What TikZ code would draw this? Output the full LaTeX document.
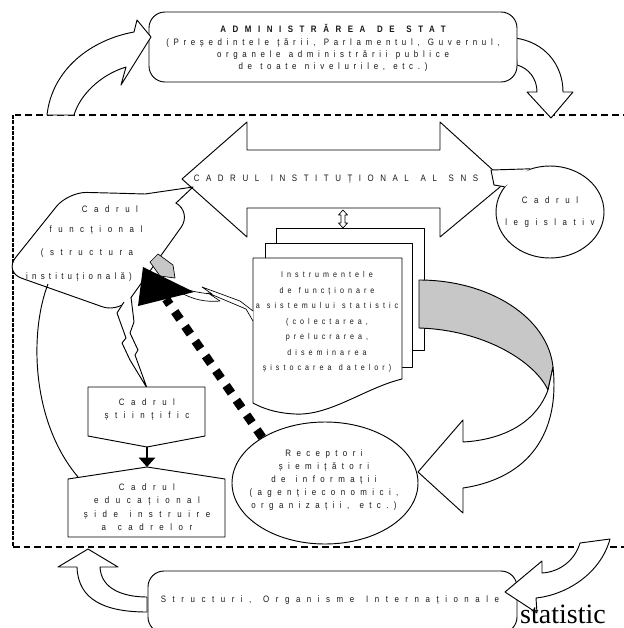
\documentclass[tikz,border=0pt]{standalone}
\usepackage{fontspec}
\setmainfont{Liberation Serif}
\newfontfamily\sansspaced[FakeStretch=0.85,LetterSpace=70,WordSpace=1.35]{Liberation Sans}
\newfontfamily\sansmedium[FakeStretch=0.85,LetterSpace=50,WordSpace=1.2]{Liberation Sans}
\newfontfamily\sanstight[FakeStretch=0.85,LetterSpace=48,WordSpace=1.2]{Liberation Sans}
\usetikzlibrary{arrows.meta,positioning,shapes.geometric}
\tikzset{%
	outline/.style  = {draw, fill=white, line width=0.7pt, line join=round},
	grayface/.style = {draw, fill=black!22, line width=0.7pt, line join=round},
	frame/.style    = {line width=1.3pt, dash pattern=on 5pt off 3pt},
	lbl/.style      = {inner sep=0pt, align=center, text=black!90, font=\sansspaced\fontsize{7}{#1}\selectfont},
	lbl/.default    = 9.75,
	smalllbl/.style = {inner sep=0pt, align=center, text=black!90, font=\sanstight\fontsize{6.3}{11.6}\selectfont},
	dashline/.style = {line width=6.5pt, dash pattern=on 7pt off 6.5pt},
}

\begin{document}
\begin{tikzpicture}[x=0.75pt,y=-0.75pt]
	\useasboundingbox (0,0) rectangle (624,628);
	\clip (0,0) rectangle (624,628);
	
	% cadrul SNS
	\draw[frame] (640,115) -- (13,115);
	\draw[frame, dash pattern=on 3pt off 1pt] (13,115) -- (13,547);
	\draw[frame] (13,547) -- (640,547);
	
	% administrarea de stat
	\draw[outline] (515,38) .. controls (545,42) and (563,65) .. (563,92) -- (573,92) -- (551,118) -- (527,92) -- (537,92) .. controls (537,78) and (528,68) .. (517,65) -- cycle;
	\draw[outline, rounded corners=12pt] (149,12) rectangle (517,82);
	\draw[outline] (47,115) .. controls (52,70) and (90,40) .. (134,32) -- (137,20) -- (151,37) -- (121,85) -- (126,67) .. controls (100,75) and (80,95) .. (74,115) -- cycle;
	\node[lbl] (adm) at (333,28) {\bfseries ADMINISTRĂREA DE STAT};
	\node[lbl, font=\sansmedium\fontsize{7}{9}\selectfont] (admtext) at (333,55) {(Președintele țării, Parlamentul, Guvernul,\\organele administrării publice\\de toate nivelurile, etc.)};
	
	% cadrul institutional
	\draw[outline] (182,179) -- (247,122) -- (247,150) -- (440,150) -- (440,122) -- (506,182) -- (440,237) -- (440,208) -- (247,208) -- (247,237) -- cycle;
	\node[lbl] (inst) at (336,179) {CADRUL INSTITUȚIONAL AL SNS};
	
	\node[outline, ellipse, minimum width=81pt, minimum height=69pt] (leg) at (550,212) {};
	\fill[white] (leg.115) -- (491,170) -- (494,185) -- (leg.151) -- cycle;
	\draw[line width=0.7pt, line join=round] (leg.115) -- (491,170) -- (494,185) -- (leg.151);
	\node[lbl] (legtext) at (leg) {Cadrul\\[6.75pt]legislativ};
	
	\draw[outline] (110,193) -- (145,194) -- (193,187) -- (176,203) [rounded corners=14pt] -- (192,212) -- (120,313) -- (4,272) -- (68,192) -- cycle;
	\node[lbl] (fc1) at (110,209) {Cadrul};
	\node[lbl] (fc2) at (96,230) {funcțional};
	\node[lbl] (fc3) at (87,253) {(structura};
	\node[lbl] (fc4) at (79,277) {\addfontfeature{LetterSpace=45}instituțională)};
	
	% instrumentele
	\draw[outline] (276,228) rectangle (424,350);
	\draw[outline] (265,243) rectangle (412,367);
	\draw[outline] (253,258) -- (402,258) -- (402,379) .. controls (365,388) and (330,416) .. (295,414) .. controls (275,413) and (262,408) .. (253,403) -- cycle;
	\node[smalllbl] (instr) at (327,322) {Instrumentele\\de funcționare\\a sistemului statistic\\(colectarea,\\prelucrarea,\\diseminarea\\șistocarea datelor)};
	\draw[outline, line width=0.5pt] (343,210) -- (347.5,215) -- (345,215) -- (345,223) -- (347.5,223) -- (343,228) -- (338.5,223) -- (341,223) -- (341,215) -- (338.5,215) -- cycle;
	
	% receptori
	\node[outline, ellipse, minimum width=139.5pt, minimum height=91.5pt] (rec) at (325,483) {};
	\node[lbl, font=\sansspaced\addfontfeature{LetterSpace=58}\fontsize{7}{9.75}\selectfont] (rectext) at (324,480) {Receptori\\șiemițători\\de informații\\(agențieconomici,\\organizații, etc.)};
	\draw[grayface] (419,280) .. controls (490,280) and (548,318) .. (553,367) -- (548,390) .. controls (535,362) and (485,330) .. (419,328) -- cycle;
	\draw[outline] (548,390) .. controls (535,425) and (500,440) .. (463,442) -- (463,420) -- (418,472) -- (463,513) -- (463,488) .. controls (530,478) and (560,432) .. (553,367) -- cycle;
	
	% legaturi spre cadrul functional
	\draw[outline, line width=0.5pt] (253,321) -- (246,309) -- (208,293) -- (220,301) .. controls (200,303) and (182,296) .. (170,284) .. controls (188,291) and (200,293) .. (212,294) -- (202,287) -- (240,301) -- (253,311);
	\draw[grayface, line width=0.5pt] (150,262) -- (158,254) -- (173,265) -- (175,278) -- (160,276) -- cycle;
	\coordinate (tip) at (143,267);
	\coordinate (tipbase) at (166,299);
	\draw[dashline] (rec.144) -- (tipbase);
	\fill (tip) -- (138,306) -- (194,292) -- cycle;
	\draw[outline] (124,302) -- (117,313) -- (126,338) -- (122,343) -- (130,360) -- (147,388) -- (135,355) -- (138,350) -- (130,333) -- (134,322) -- (131,297);
	
	% cadrul stiintific si educational
	\draw[outline] (88,387) -- (205,387) -- (205,436) -- (147,447) -- (88,436) -- cycle;
	\node[lbl] (sci) at (147,410) {Cadrul\\științific};
	\draw[outline] (147,467) -- (225,479) -- (225,537) -- (68,537) -- (68,479) -- cycle;
	\node[lbl=10] (edu) at (147,507) {Cadrul\\educațional\\șide instruire\\a cadrelor};
	\coordinate (scitip) at (147,447);
	\coordinate (edutip) at (147,467);
	\draw[line width=2pt, -{Triangle[length=7pt,width=12pt]}] (scitip) -- (edutip);
	\draw[line width=0.7pt] (48,284) .. controls (30,330) and (30,420) .. (78,477);
	
	% structuri internationale
	\draw[outline, rounded corners=12pt] (148,571) rectangle (517,633);
	\node[lbl] (intl) at (330,600) {Structuri, Organisme Internaționale};
	\draw[outline] (147,612) .. controls (105,612) and (78,600) .. (77,567) -- (58,567) -- (88,549) -- (118,567) -- (100,567) .. controls (101,590) and (125,597) .. (147,597) -- cycle;
	\draw[outline] (610,539) .. controls (600,575) and (565,595) .. (536,598) -- (537,613) -- (505,592) -- (542,561) -- (542,573) .. controls (560,572) and (575,560) .. (580,543) -- cycle;
	\node[font=\fontsize{21}{21}\selectfont, anchor=base, inner sep=0pt] (stat) at (563,623) {statistic};
\end{tikzpicture}
\end{document}
